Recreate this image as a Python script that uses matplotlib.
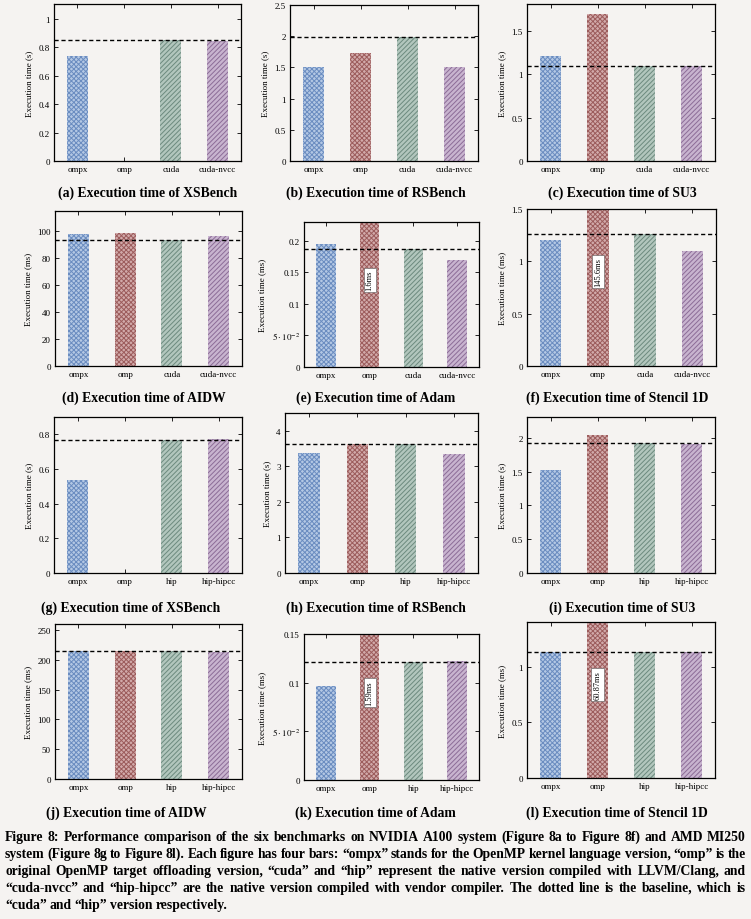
import matplotlib
matplotlib.use("Agg")
import matplotlib.pyplot as plt
import numpy as np

plt.rcParams["font.family"] = ["Liberation Serif", "DejaVu Serif"]
plt.rcParams["mathtext.fontset"] = "stix"
plt.rcParams["hatch.linewidth"] = 0.7

W, H = 751, 920
BG = "#f5f3f1"

# ---- data ----
NAMES_NV = ["ompx", "omp", "cuda", "cuda-nvcc"]
NAMES_AMD = ["ompx", "omp", "hip", "hip-hipcc"]

xsbench_nv = [0.74, 0, 0.855, 0.845]
rsbench_nv = [1.5, 1.73, 1.98, 1.5]
su3_nv = [1.21, 1.70, 1.10, 1.10]
aidw_nv = [98.3, 99.0, 93.5, 96.5]
adam_nv = [0.195, 1.6, 0.187, 0.170]
stencil_nv = [1.20, 145.6, 1.265, 1.10]

xsbench_amd = [0.535, 0, 0.77, 0.775]
rsbench_amd = [3.38, 3.63, 3.62, 3.35]
su3_amd = [1.52, 2.04, 1.93, 1.91]
aidw_amd = [215, 214, 215, 213]
adam_amd = [0.097, 1.59, 0.121, 0.122]
stencil_amd = [1.13, 60.87, 1.13, 1.13]

# omp bars that run off the top of the axis get a label
clip_labels = {"e": "1.6ms", "f": "145.6ms", "k": "1.59ms", "l": "60.87ms"}

FACE = ["#b4c8e4", "#d2aaaa", "#b2c6bd", "#c8b4cf"]
HATCHC = ["#6a8cc0", "#9c5c5c", "#6c8a7e", "#8c6c97"]
HATCH = ["xxxxxxx", "xxxxxxx", "///////", "///////"]

# (key, values, names, unit, ytop, yticks, caption, axes px box, caption x)
panels = [
    ("a", xsbench_nv, NAMES_NV, "s", 1.105, [0, 0.2, 0.4, 0.6, 0.8, 1], "XSBench", (54, 5, 241, 162), 148),
    ("b", rsbench_nv, NAMES_NV, "s", 2.5, [0, 0.5, 1, 1.5, 2, 2.5], "RSBench", (290, 6, 478, 162), 376),
    ("c", su3_nv, NAMES_NV, "s", 1.815, [0, 0.5, 1, 1.5], "SU3", (527, 5, 715, 162), 622),
    ("d", aidw_nv, NAMES_NV, "ms", 115, [0, 20, 40, 60, 80, 100], "AIDW", (55, 212, 242, 367), 144),
    ("e", adam_nv, NAMES_NV, "ms", 0.23, [0, 0.05, 0.1, 0.15, 0.2], "Adam", (304, 223, 479, 368), 376),
    ("f", stencil_nv, NAMES_NV, "ms", 1.5, [0, 0.5, 1, 1.5], "Stencil 1D", (527, 210, 716, 367), 617),
    ("g", xsbench_amd, NAMES_AMD, "s", 0.9, [0, 0.2, 0.4, 0.6, 0.8], "XSBench", (54, 418, 242, 574), 131),
    ("h", rsbench_amd, NAMES_AMD, "s", 4.5, [0, 1, 2, 3, 4], "RSBench", (285, 414, 478, 574), 376),
    ("i", su3_amd, NAMES_AMD, "s", 2.31, [0, 0.5, 1, 1.5, 2], "SU3", (527, 418, 715, 574), 622),
    ("j", aidw_amd, NAMES_AMD, "ms", 260, [0, 50, 100, 150, 200, 250], "AIDW", (55, 625, 242, 780), 126),
    ("k", adam_amd, NAMES_AMD, "ms", 0.15, [0, 0.05, 0.1, 0.15], "Adam", (304, 635, 479, 781), 375),
    ("l", stencil_amd, NAMES_AMD, "ms", 1.4, [0, 0.5, 1], "Stencil 1D", (527, 623, 715, 779), 617),
]
cap_y = {"a": 193, "b": 193, "c": 193, "d": 398, "e": 398, "f": 398,
         "g": 608, "h": 608, "i": 608, "j": 813, "k": 813, "l": 813}


def fmt(v):
    if abs(v - 0.05) < 1e-9:
        return r"$5\cdot10^{-2}$"
    return f"{v:g}"


fig = plt.figure(figsize=(W / 100, H / 100), dpi=100, facecolor=BG)

for key, vals, names, unit, ytop, yticks, title, (l, t, r, b), cx in panels:
    ax = fig.add_axes([l / W, 1 - b / H, (r - l) / W, (b - t) / H])
    ax.set_facecolor("none")
    x = np.arange(len(vals))
    for i in range(len(vals)):
        ax.bar(x[i], vals[i], width=0.45, color=FACE[i], edgecolor=HATCHC[i],
               hatch=HATCH[i], linewidth=0, zorder=2)
    ax.axhline(vals[2], color="black", linestyle=(0, (3, 2)), linewidth=1.0, zorder=3)
    if key in clip_labels:
        ax.text(1, ytop * 0.6, clip_labels[key], rotation=90, ha="center", va="center",
                fontsize=6, zorder=4,
                bbox=dict(boxstyle="square,pad=0.25", fc="white", ec="0.35", lw=0.4))
    ax.set_xlim(-0.5, 3.5)
    ax.set_ylim(0, ytop)
    ax.set_xticks(x)
    ax.set_xticklabels(names)
    ax.set_yticks(yticks)
    ax.set_yticklabels([fmt(v) for v in yticks])
    ax.tick_params(direction="in", length=3, width=0.6, top=True, right=True,
                   labelsize=6.5, pad=3)
    ax.set_ylabel(f"Execution time ({unit})", fontsize=6.5, labelpad=4)
    for s in ax.spines.values():
        s.set_linewidth(0.9)
    fig.text(cx / W, 1 - cap_y[key] / H, f"({key}) Execution time of {title}",
             ha="center", va="center", fontsize=9.8, fontweight="bold")

# ---- figure caption, justified by hand ----
caption_lines = [
    "Figure 8: Performance comparison of the six benchmarks on NVIDIA A100 system (Figure 8a to Figure 8f) and AMD MI250",
    "system (Figure 8g to Figure 8l). Each figure has four bars: \u201compx\u201d stands for the OpenMP kernel language version, \u201comp\u201d is the",
    "original OpenMP target offloading version, \u201ccuda\u201d and \u201chip\u201d represent the native version compiled with LLVM/Clang, and",
    "\u201ccuda-nvcc\u201d and \u201chip-hipcc\u201d are the native version compiled with vendor compiler. The dotted line is the baseline, which is",
    "\u201ccuda\u201d and \u201chip\u201d version respectively.",
]
line_base = [841, 858, 875, 892, 909]
x0, x1 = 5, 746
renderer = fig.canvas.get_renderer()
for n, (line, yy) in enumerate(zip(caption_lines, line_base)):
    words = line.split(" ")
    texts = [fig.text(0, 1 - yy / H, w, ha="left", va="baseline", fontsize=9.8,
                      fontweight="bold") for w in words]
    widths = [tx.get_window_extent(renderer).width for tx in texts]
    if n < len(caption_lines) - 1:
        gap = (x1 - x0 - sum(widths)) / (len(words) - 1)
    else:
        gap = 3.0
    xpos = x0
    for tx, wd in zip(texts, widths):
        tx.set_x(xpos / W)
        xpos += wd + gap

fig.savefig("out.png", dpi=100, facecolor=BG)
